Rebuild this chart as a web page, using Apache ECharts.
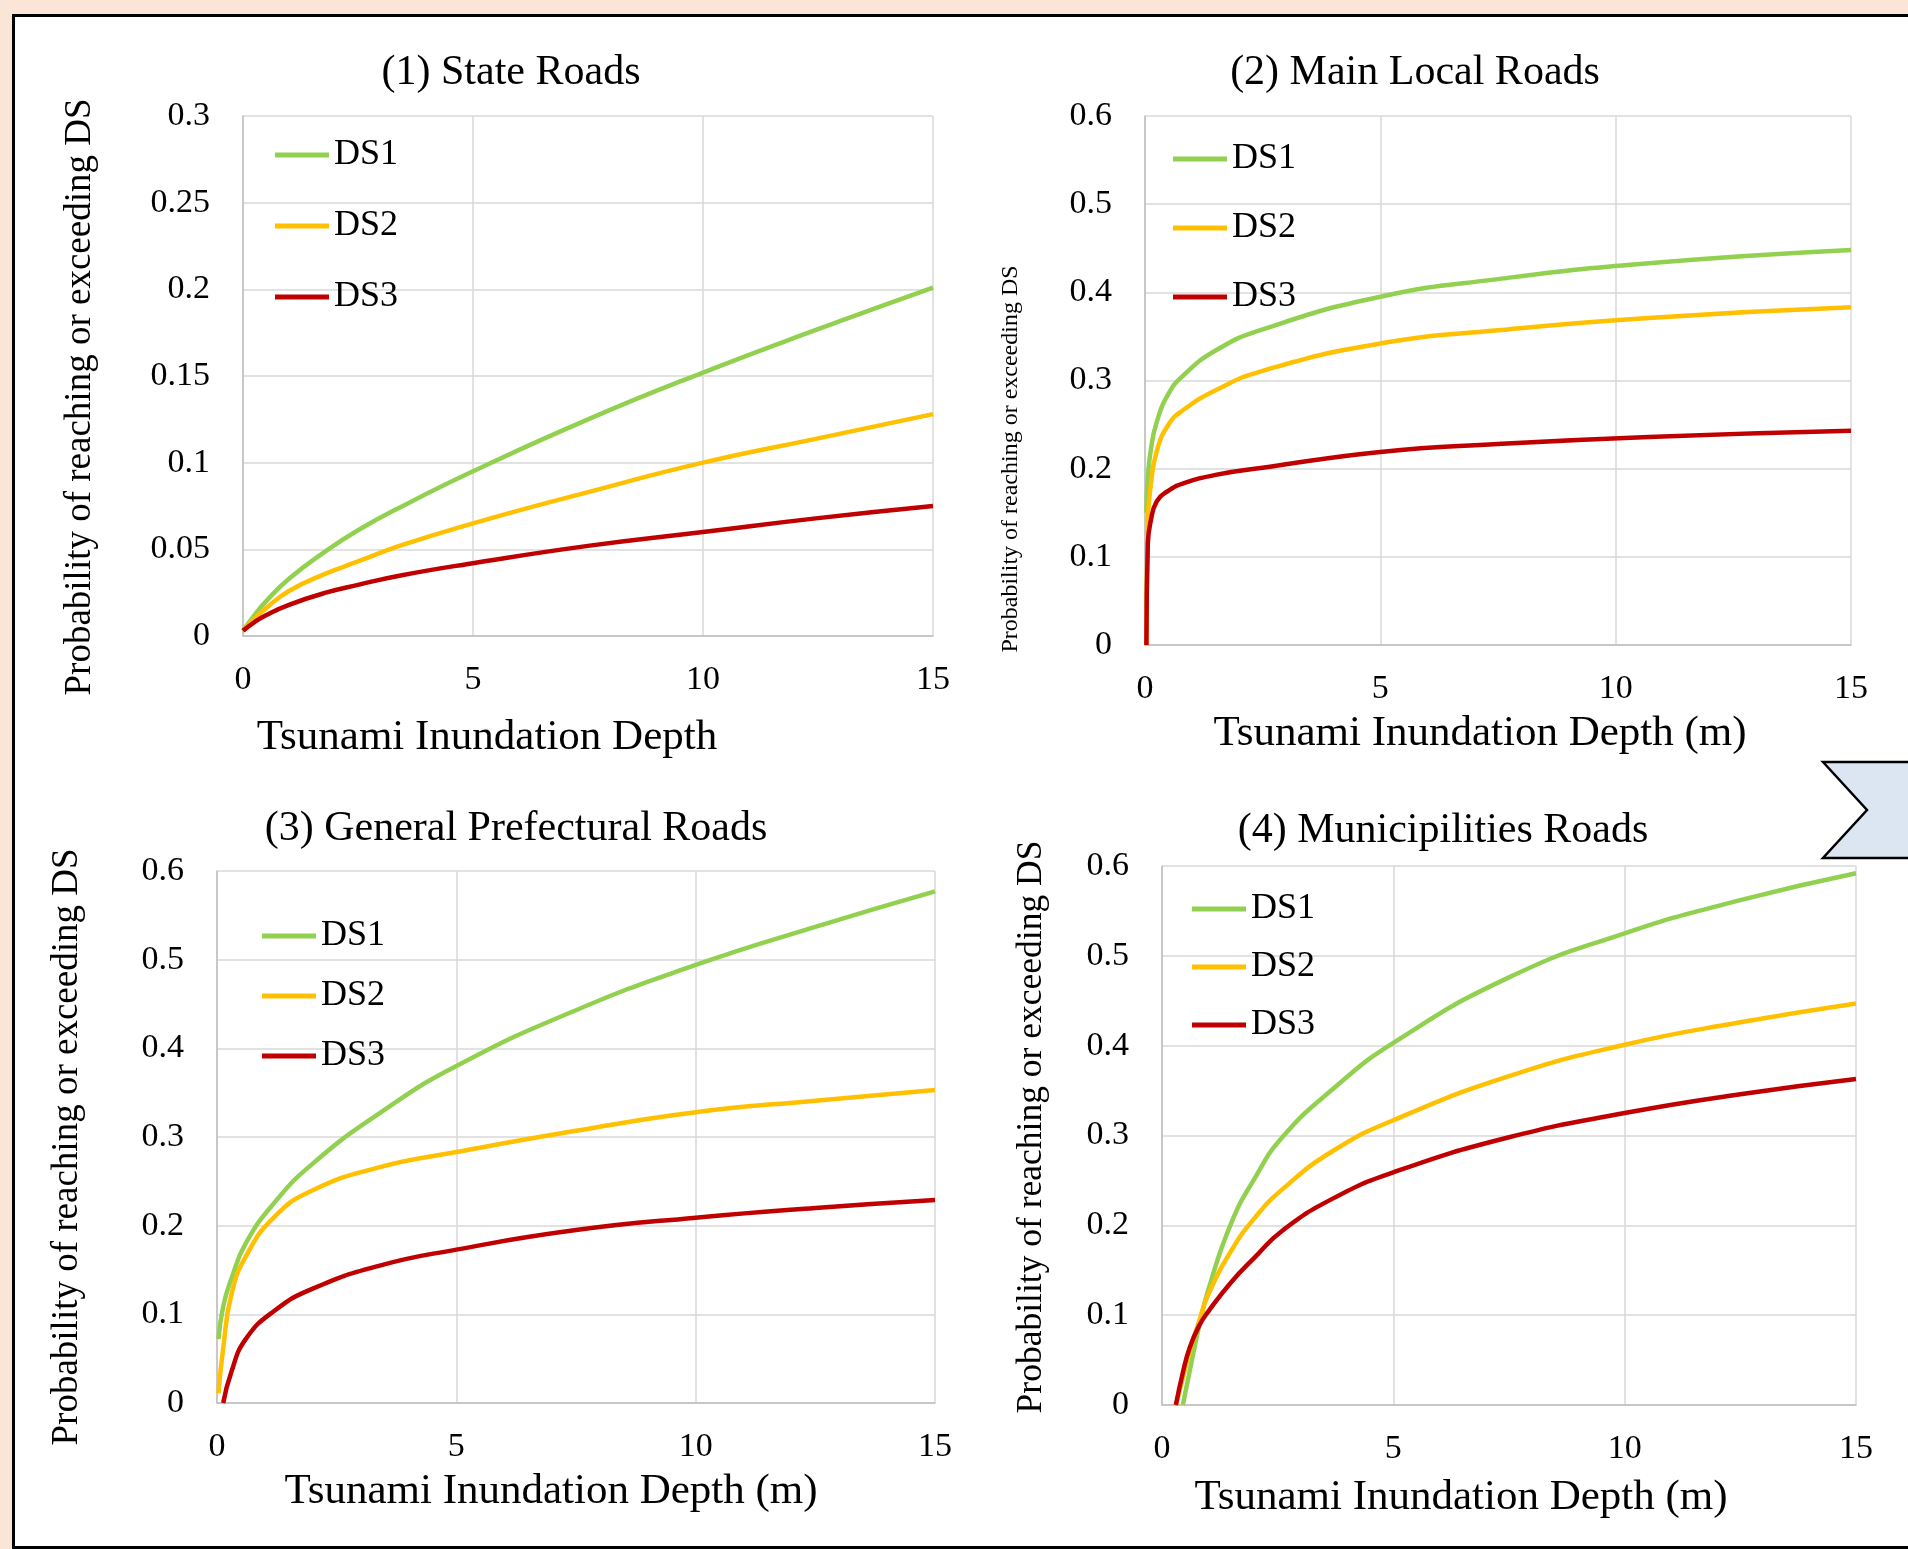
<!DOCTYPE html>
<html>
<head>
<meta charset="utf-8">
<title>Tsunami fragility curves - roads</title>
<script src="https://cdn.jsdelivr.net/npm/echarts@6/dist/echarts.min.js"></script>
<style>
  html, body { margin: 0; padding: 0; overflow: hidden; background: #fbe5d6; }
  #frame {
    position: absolute; left: 12px; top: 14px; width: 2000px; height: 1535px;
    box-sizing: border-box; border: 3px solid #000; background: #fff;
  }
  #chart { position: absolute; left: 0; top: 0; width: 1908px; height: 1549px; }
</style>
</head>
<body>
<div id="frame"></div>
<div id="chart"></div>
<script>
const depthState = [0, 0.25, 0.5, 1, 1.8, 2.5, 3.4, 5, 7.5, 10, 12.5, 15];
const stateDS1 = [0.003, 0.012, 0.020, 0.033, 0.049, 0.061, 0.074, 0.095, 0.125, 0.152, 0.177, 0.201];
const stateDS2 = [0.003, 0.010, 0.016, 0.026, 0.036, 0.043, 0.052, 0.065, 0.083, 0.100, 0.114, 0.128];
const stateDS3 = [0.003, 0.008, 0.012, 0.018, 0.025, 0.0295, 0.0348, 0.042, 0.052, 0.060, 0.068, 0.075];

const depthMain = [0.03, 0.06, 0.12, 0.25, 0.5, 0.8, 1.5, 2.5, 5, 7.5, 10.7, 15];
const mainDS1 = [0.15, 0.19, 0.22, 0.253, 0.285, 0.305, 0.334, 0.358, 0.395, 0.415, 0.433, 0.448];
const mainDS2 = [0.0, 0.14, 0.18, 0.22, 0.25, 0.266, 0.289, 0.311, 0.342, 0.357, 0.371, 0.383];
const mainDS3 = [0.0, 0.115, 0.14, 0.163, 0.175, 0.183, 0.193, 0.201, 0.219, 0.228, 0.236, 0.243];

const depthPref = [0.03, 0.13, 0.3, 0.6, 1.2, 2, 3.4, 5, 7.5, 10, 12.5, 15];
const prefDS1 = [0.072, 0.109, 0.140, 0.180, 0.226, 0.270, 0.327, 0.380, 0.443, 0.494, 0.537, 0.577];
const prefDS2 = [0.011, 0.062, 0.122, 0.165, 0.210, 0.240, 0.266, 0.283, 0.307, 0.328, 0.341, 0.353];
const prefDS3 = [null, 0.0, 0.035, 0.072, 0.104, 0.129, 0.155, 0.173, 0.195, 0.209, 0.220, 0.229];

const depthMuni = [0.3, 0.45, 0.6, 0.8, 1.0, 1.5, 2.0, 2.6, 3.7, 5, 7.5, 10, 12.5, 15];
const muniDS1 = [null, 0.0, 0.038, 0.087, 0.128, 0.203, 0.252, 0.298, 0.352, 0.403, 0.476, 0.525, 0.562, 0.592];
const muniDS2 = [0.0, 0.03, 0.06, 0.093, 0.123, 0.172, 0.208, 0.240, 0.283, 0.317, 0.366, 0.401, 0.426, 0.447];
const muniDS3 = [0.0, 0.036, 0.064, 0.088, 0.104, 0.137, 0.164, 0.194, 0.230, 0.259, 0.298, 0.325, 0.346, 0.363];

const seriesNames = ["DS1", "DS2", "DS3"];
const colors = ["#92d050", "#ffc000", "#c00000"];
const xTicks = [0, 5, 10, 15];

const FONT = "'Liberation Serif', 'Times New Roman', serif";

const panels = [
  { depth: depthState, values: [stateDS1, stateDS2, stateDS3], yMax: 0.3, yStep: 0.05,
    grid: { left: 243, top: 116, width: 690, height: 520 },
    legend: { left: 275, top: 137, gap: 35 },
    title: { text: "(1) State Roads", x: 511, y: 73 },
    xName: { text: "Tsunami Inundation Depth", x: 487, y: 738 },
    yName: { x: 80, y: 397, size: 37 } },
  { depth: depthMain, values: [mainDS1, mainDS2, mainDS3], yMax: 0.6, yStep: 0.1,
    grid: { left: 1145, top: 116, width: 706, height: 529 },
    legend: { left: 1173, top: 141, gap: 33 },
    title: { text: "(2) Main Local Roads", x: 1415, y: 73 },
    xName: { text: "Tsunami Inundation Depth (m)", x: 1480, y: 734 },
    yName: { x: 1011, y: 459, size: 24 } },
  { depth: depthPref, values: [prefDS1, prefDS2, prefDS3], yMax: 0.6, yStep: 0.1,
    grid: { left: 217, top: 871, width: 718, height: 532 },
    legend: { left: 262, top: 918, gap: 24 },
    title: { text: "(3) General Prefectural Roads", x: 516, y: 829 },
    xName: { text: "Tsunami Inundation Depth (m)", x: 551, y: 1492 },
    yName: { x: 67, y: 1147, size: 37 } },
  { depth: depthMuni, values: [muniDS1, muniDS2, muniDS3], yMax: 0.6, yStep: 0.1,
    grid: { left: 1162, top: 866, width: 694, height: 539 },
    legend: { left: 1192, top: 891, gap: 22 },
    title: { text: "(4) Municipilities Roads", x: 1443, y: 831 },
    xName: { text: "Tsunami Inundation Depth (m)", x: 1461, y: 1498 },
    yName: { x: 1032, y: 1127, size: 35.5 } },
];

const gridLine = { show: true, lineStyle: { color: "#d9d9d9", width: 1.5 } };
const axisLine = { show: true, lineStyle: { color: "#bfbfbf", width: 1.5 } };
const tickLabel = { fontFamily: FONT, fontSize: 34, color: "#000" };

function text(t, x, y, size, rotation) {
  return {
    type: "text", x: x, y: y, rotation: rotation || 0, silent: true,
    style: { text: t, fontFamily: FONT, fontSize: size, fill: "#000",
      align: "center", verticalAlign: "middle" },
  };
}

const chart = echarts.init(document.getElementById("chart"));

const options = {
  animation: false,
  grid: panels.map((p) => ({ ...p.grid, containLabel: false, outerBoundsMode: "none" })),
  xAxis: panels.map((p, i) => ({
    type: "value", gridIndex: i, min: xTicks[0], max: xTicks[xTicks.length - 1], interval: 5,
    axisLine, axisTick: { show: false }, splitLine: gridLine,
    axisLabel: { ...tickLabel, margin: 27 },
  })),
  yAxis: panels.map((p, i) => ({
    type: "value", gridIndex: i, min: 0, max: p.yMax, interval: p.yStep,
    axisLine, axisTick: { show: false }, splitLine: gridLine,
    axisLabel: { ...tickLabel, margin: 33 },
  })),
  legend: panels.map((p) => ({
    data: seriesNames, orient: "vertical", left: p.legend.left, top: p.legend.top,
    itemGap: p.legend.gap, icon: "rect", itemWidth: 54, itemHeight: 5, padding: 0,
    selectedMode: false,
    textStyle: { fontFamily: FONT, fontSize: 36, color: "#000", lineHeight: 36 },
  })),
  series: [],
  graphic: [],
};

panels.forEach((p, i) => {
  p.values.forEach((vals, k) => {
    options.series.push({
      name: seriesNames[k], type: "line", xAxisIndex: i, yAxisIndex: i,
      data: p.depth.map((d, j) => [d, vals[j]]).filter((pt) => pt[1] !== null),
      showSymbol: false, symbol: "none", smooth: 0.5,
      color: colors[k], lineStyle: { color: colors[k], width: 4.5 },
    });
  });
  options.graphic.push(text(p.title.text, p.title.x, p.title.y, 42));
  options.graphic.push(text(p.xName.text, p.xName.x, p.xName.y, 43));
  options.graphic.push(text("Probability of reaching or exceeding DS",
    p.yName.x, p.yName.y, p.yName.size, Math.PI / 2));
});

// the chevron cut off at the right edge
options.graphic.push({
  type: "polygon", silent: true,
  shape: { points: [[1823, 762], [1867, 810], [1823, 858], [1915, 858], [1915, 762]] },
  style: { fill: "#dce6f2", stroke: "#000", lineWidth: 2.5 },
});

chart.setOption(options);
</script>
</body>
</html>
